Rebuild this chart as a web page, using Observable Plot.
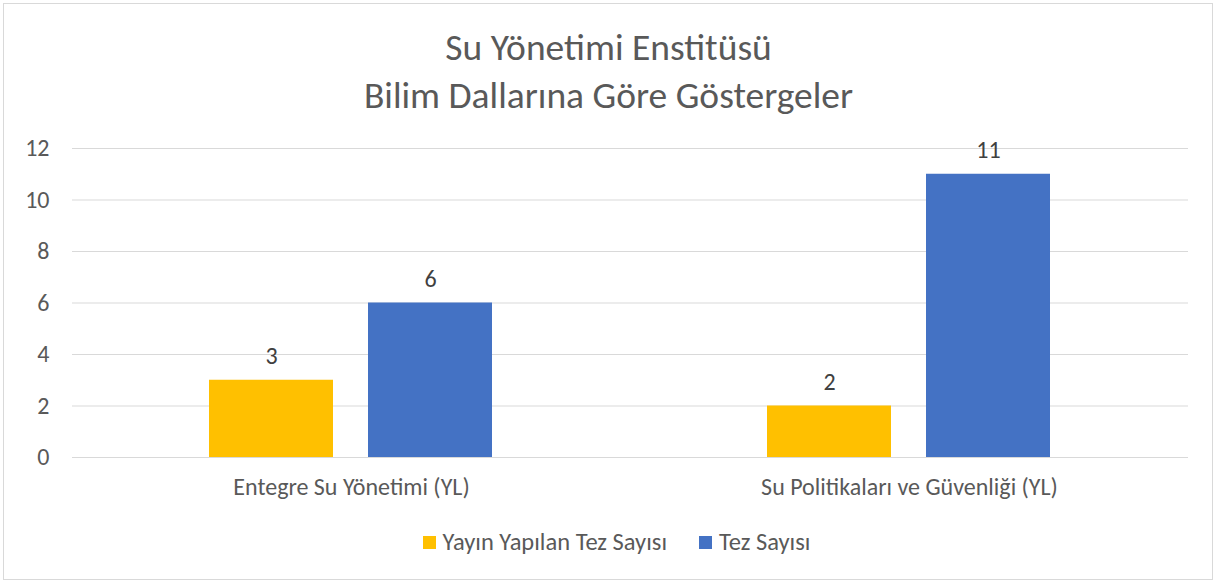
<!DOCTYPE html>
<html>
<head>
<meta charset="utf-8">
<script src="https://cdn.jsdelivr.net/npm/d3@7"></script>
<script src="https://cdn.jsdelivr.net/npm/@observablehq/plot@0.6"></script>
<style>
  html, body { margin: 0; padding: 0; background: #fff; }
  body { width: 1217px; height: 583px; position: relative; overflow: hidden;
         font-family: Carlito, "Open Sans", sans-serif; }
  #frame { position: absolute; left: 3px; top: 3px; width: 1208px; height: 575px;
           border: 1px solid #d9d9d9; box-sizing: content-box; }
  #title { position: absolute; left: 0; top: 23px; width: 1217px; text-align: center;
           font-size: 37.5px; line-height: 48px; color: #595959; }
  #chart { position: absolute; left: 0; top: 130px; }
  #legend { position: absolute; left: 8px; top: 527px; width: 1217px; display: flex;
            justify-content: center; font-size: 24.5px; line-height: 30px; color: #595959; }
  .item { display: flex; align-items: center; margin: 0 16px; }
  .sw { width: 13px; height: 13px; margin-right: 7px; }
</style>
</head>
<body>
<div id="frame"></div>
<div id="title">Su Yönetimi Enstitüsü<br>Bilim Dallarına Göre Göstergeler</div>
<div id="chart"></div>
<div id="legend"></div>
<script>
const categories = ["Entegre Su Yönetimi (YL)", "Su Politikaları ve Güvenliği (YL)"];
const series = ["Yayın Yapılan Tez Sayısı", "Tez Sayısı"];
const yayinValues = [3, 2];
const tezValues = [6, 11];
const yTicks = [0, 2, 4, 6, 8, 10, 12];
const colors = ["#FFC000", "#4472C4"];

const seriesValues = [yayinValues, tezValues];
const data = [];
categories.forEach((c, i) => {
  series.forEach((s, j) => {
    data.push({category: c, series: s, value: seriesValues[j][i]});
  });
});

const fontFamily = 'Carlito, "Open Sans", sans-serif';
const fs = 24;

const chart = Plot.plot({
  width: 1217,
  height: 385,
  marginLeft: 71,
  marginRight: 29,
  marginTop: 18,
  marginBottom: 58,
  style: {fontFamily, fontSize: fs + "px", color: "#595959", background: "transparent", overflow: "visible"},
  fx: {domain: categories, padding: 0, label: null},
  x: {domain: series, paddingInner: 0.22, paddingOuter: 0.855, axis: null},
  y: {domain: [0, 12], label: null},
  color: {domain: series, range: colors},
  marks: [
    Plot.gridY(yTicks, {stroke: "#d9d9d9", strokeOpacity: 1, strokeWidth: 1}),
    Plot.barY(data, {fx: "category", x: "series", y: "value", fill: "series"}),
    Plot.text(data, {fx: "category", x: "series", y: "value", text: d => String(d.value),
      dy: -16, lineAnchor: "bottom", fill: "#404040", fontSize: fs}),
    Plot.axisY(yTicks, {tickSize: 0, tickPadding: 23, label: null, fill: "#595959", fontSize: fs}),
    Plot.axisFx({anchor: "bottom", tickSize: 0, tickPadding: 20, label: null, fill: "#595959", fontSize: fs})
  ]
});
document.getElementById("chart").appendChild(chart);

const legend = document.getElementById("legend");
series.forEach((s, i) => {
  const item = document.createElement("div");
  item.className = "item";
  const sw = document.createElement("span");
  sw.className = "sw";
  sw.style.background = colors[i];
  const t = document.createElement("span");
  t.textContent = s;
  item.appendChild(sw);
  item.appendChild(t);
  legend.appendChild(item);
});
</script>
</body>
</html>
